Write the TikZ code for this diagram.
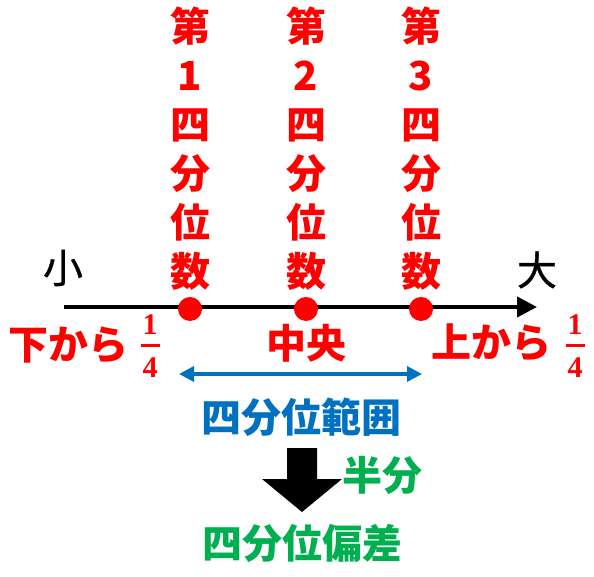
\documentclass[tikz,border=0pt]{standalone}
\usepackage{fontspec}
\newfontfamily\jp{Noto Sans CJK JP}
\newfontfamily\jpmid{Noto Sans CJK JP}[FakeBold=0.8]
\newfontfamily\numfont{Liberation Serif}
\usepackage{tikz}
\usetikzlibrary{arrows.meta}
\usetikzlibrary{positioning}

\definecolor{qred}{RGB}{255,0,0}
\definecolor{qblue}{RGB}{0,112,192}
\definecolor{qgreen}{RGB}{0,176,80}

\newcommand{\quarter}{1\\\rule[9pt]{19pt}{3pt}\\4}

\begin{document}
\begin{tikzpicture}[
        x=1pt,y=-1pt,
        label text/.style={inner sep=0pt,font=\jp\bfseries\fontsize{40}{49}\selectfont},
        plain text/.style={inner sep=0pt,font=\jpmid\fontsize{40}{49}\selectfont},
        column/.style={label text,align=center,text=qred},
        quart/.style={circle,fill=qred,inner sep=0pt,minimum size=24pt},
        frac/.style={inner sep=0pt,align=center,text=qred,
            font=\numfont\bfseries\fontsize{30}{21.5}\selectfont},
        axis arrow/.style={-{Triangle[length=20pt,width=20pt]},line width=4pt},
        span arrow/.style={{Triangle[length=15pt,width=15pt]}-{Triangle[length=15pt,width=15pt]},
            line width=3.5pt,draw=qblue},
    ]
        \useasboundingbox (0,0) rectangle (594,577);

        % axis
        \coordinate (small end) at (64,307);
        \coordinate (large end) at (537,307);
        \draw[axis arrow] (small end) -- (large end);
        \node[plain text] (small) at (63,268) {小};
        \node[plain text] (large) at (537,270) {大};

        % quartiles
        \node[quart] (q1) at (190,309) {};
        \node[quart] (q2) at (306,309) {};
        \node[quart] (q3) at (421,309) {};

        \node[column] (q1 name) at (190,149) {第\\1\\四\\分\\位\\数};
        \node[column] (q2 name) at (306,149) {第\\2\\四\\分\\位\\数};
        \node[column] (q3 name) at (421,149) {第\\3\\四\\分\\位\\数};

        \node[label text,text=qred] (lower) at (69,345) {下から};
        \node[frac] (lower frac) at (150,346) {\quarter};
        \node[label text,text=qred] (middle) at (306,343) {中央};
        \node[label text,text=qred] (upper) at (491,343) {上から};
        \node[frac] (upper frac) at (575,346) {\quarter};

        % range
        \coordinate (range left) at (179,374);
        \coordinate (range right) at (422,374);
        \draw[span arrow] (range left) -- (range right);
        \node[label text,text=qblue] (iqr) at (301,417) {四分位範囲};

        % half
        \fill (287,448) -- (317,448) -- (317,479) -- (342,479)
            -- (302,512) -- (262,479) -- (287,479) -- cycle;
        \node[label text,text=qgreen] (half) at (382,475) {半分};
        \node[label text,text=qgreen] (qd) at (302,543) {四分位偏差};
    \end{tikzpicture}
\end{document}
